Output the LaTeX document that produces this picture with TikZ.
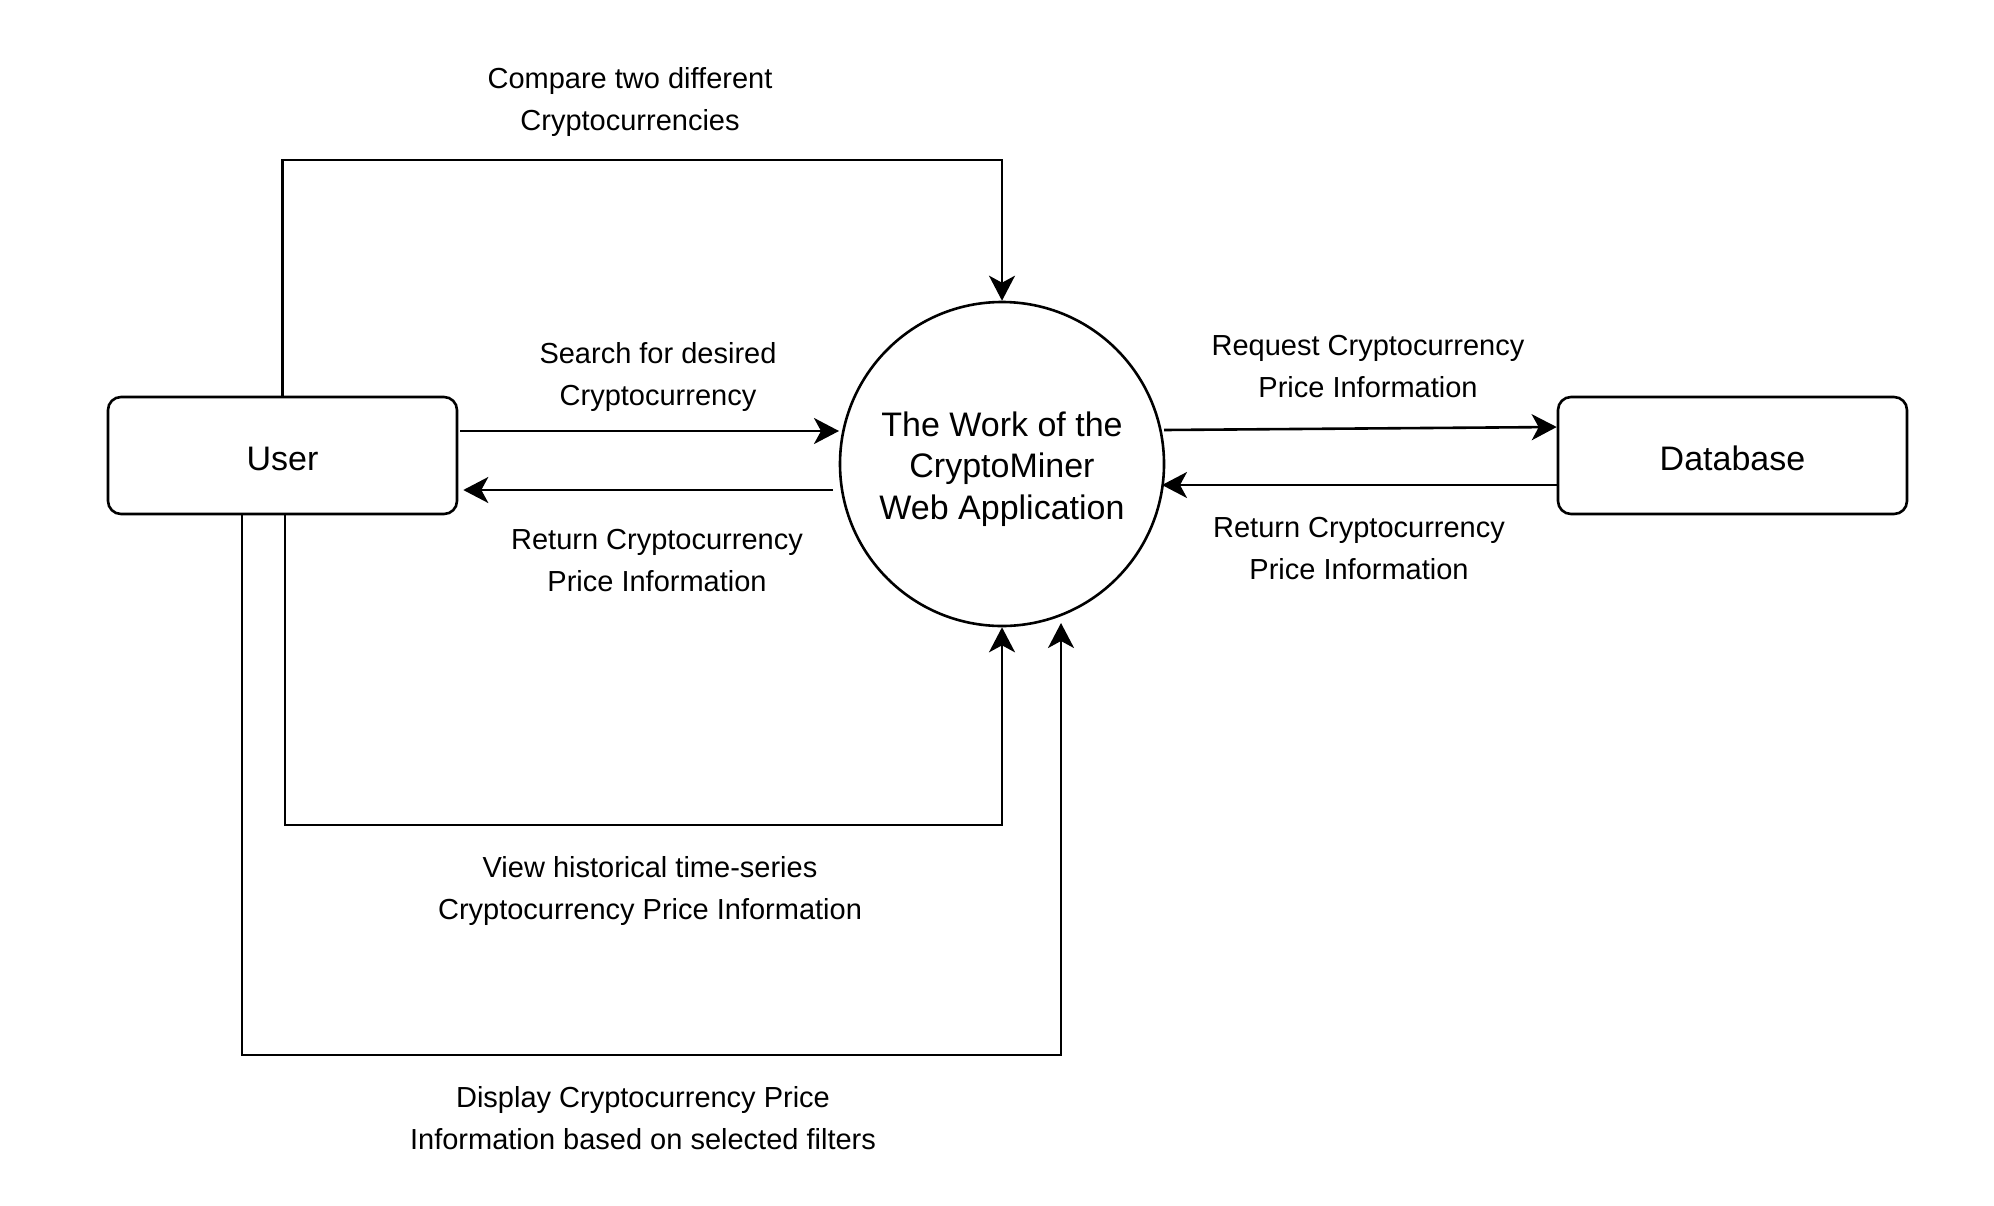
\documentclass[tikz,border=0pt]{standalone}
\usepackage{fontspec}
\setmainfont{Liberation Sans}
\usetikzlibrary{arrows.meta,calc}
\begin{document}
\begin{tikzpicture}[x=1pt,y=-1pt,
  line width=2.6pt,
  arr/.style={-{Stealth[length=25pt,width=26pt,inset=7pt]}},
  box/.style={draw, rounded corners=13pt, minimum width=349pt, minimum height=117pt, inner sep=0pt, text height=29pt, text depth=0pt, font=\fontsize{34}{41}\selectfont},
  lbl/.style={align=center, inner sep=0pt, font=\fontsize{29}{42}\selectfont},
]
\useasboundingbox[fill=white] (0,0) rectangle (1994,1205);
\node[box] (user) at (282.5,455.5) {User};
\node[box] (db) at (1732.5,455.5) {Database};
\node[draw, circle, minimum size=324pt, inner sep=0pt] (app) at (1002,464) {};
\node[align=center, inner sep=0pt, font=\fontsize{34}{41.5}\selectfont] (apptext) at ($(app.center)+(0,5.2)$) {\strut The Work of the\\\strut CryptoMiner\\\strut Web Application};

% Compare
\coordinate (topy) at (0,160);
\draw[arr] (user.north) -- (user.north |- topy) -| (app.north);
% Search
\draw[arr] ($(user.east)+(2,-24.5)$) -- ($(app.center)+(-163,-33)$);
% Return to user
\draw[arr] ($(app.center)+(-169,26)$) -- ($(user.east)+(5,34.5)$);
% Request
\draw[arr] ($(app.center)+(162,-34)$) -- ($(db.west)+(0,-28.5)$);
% Return from db
\draw[arr] ($(db.west)+(0,29.5)$) -- ($(app.center)+(160,21)$);
% View historical
\coordinate (vstart) at ($(user.south)+(2.5,0)$);
\coordinate (viewy) at (0,825);
\draw[arr] (vstart) -- (vstart |- viewy) -| (app.south);
% Display
\coordinate (dstart) at ($(user.south)+(-40.5,0)$);
\coordinate (dispy) at (0,1055);
\coordinate (dend) at ($(app.center)+(59,159)$);
\draw[arr] (dstart) -- (dstart |- dispy) -| (dend);

\node[lbl] (lcompare) at (630,100.6) {\strut Compare two different\\\strut Cryptocurrencies};
\node[lbl] (lsearch) at (658,375.6) {\strut Search for desired\\\strut Cryptocurrency};
\node[lbl] (lret1) at (657,561.6) {\strut Return Cryptocurrency\\\strut Price Information};
\node[lbl] (lreq) at (1368,367.6) {\strut Request Cryptocurrency\\\strut Price Information};
\node[lbl] (lret2) at (1359,549.6) {\strut Return Cryptocurrency\\\strut Price Information};
\node[lbl] (lview) at (650,889.6) {\strut View historical time-series\\\strut Cryptocurrency Price Information};
\node[lbl] (ldisp) at (643,1119.6) {\strut Display Cryptocurrency Price\\\strut Information based on selected filters};
\end{tikzpicture}
\end{document}
